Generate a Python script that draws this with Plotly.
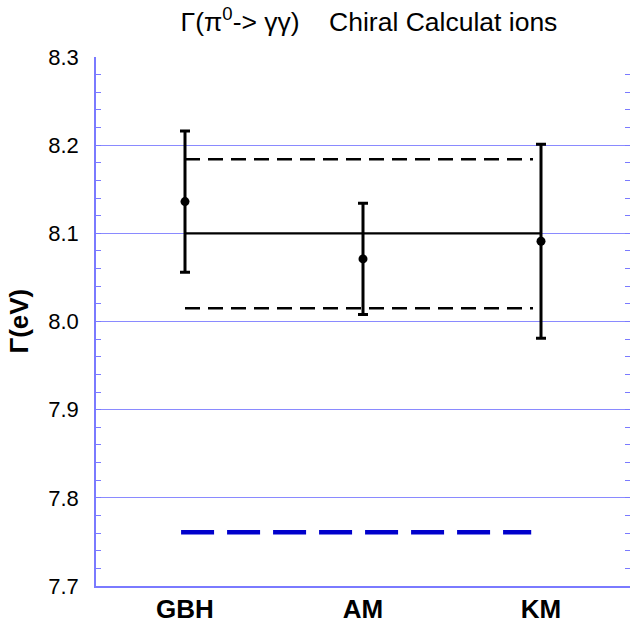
import plotly.graph_objects as go

# ---- data ----
categories = ["GBH", "AM", "KM"]
cat_pos = [0, 1, 2]
gamma_values = [8.136, 8.071, 8.091]
gamma_errors = [0.080, 0.063, 0.110]

mean_value = 8.10
mean_x = [0, 2]
band_upper = 8.184
band_lower = 8.015
band_x = [0, 1.955]

lo_value = 7.761
lo_x = [-0.022, 1.945]

y_ticks = [7.7, 7.8, 7.9, 8.0, 8.1, 8.2, 8.3]
y_range = [7.7, 8.3]

FONT = "Liberation Sans, Arial, sans-serif"
AXIS_BLUE = "#7a7aff"
GRID_BLUE = "#8a8aff"

fig = go.Figure()

# mean line
fig.add_trace(go.Scatter(x=mean_x, y=[mean_value] * len(mean_x), mode="lines",
                         line=dict(color="black", width=2.2), showlegend=False, hoverinfo="skip"))
# band lines
for yv in (band_upper, band_lower):
    fig.add_trace(go.Scatter(x=band_x, y=[yv] * len(band_x), mode="lines",
                             line=dict(color="black", width=2.5, dash="15px,8px"),
                             showlegend=False, hoverinfo="skip"))
# low blue dashed line
fig.add_trace(go.Scatter(x=lo_x, y=[lo_value] * len(lo_x), mode="lines",
                         line=dict(color="#0000cc", width=4.5, dash="33px,13px"),
                         showlegend=False, hoverinfo="skip"))
# points with error bars
fig.add_trace(go.Scatter(x=cat_pos, y=gamma_values, mode="markers",
                         marker=dict(color="black", size=9),
                         error_y=dict(type="data", array=gamma_errors, visible=True,
                                      color="black", thickness=3, width=5),
                         showlegend=False))

fig.update_layout(
    width=630, height=623,
    margin=dict(l=96, r=0, t=57, b=37),
    paper_bgcolor="white", plot_bgcolor="white",
    font=dict(family=FONT, color="black"),
    title=dict(text="Γ(π<sup>0</sup>-> γγ)\u00a0\u00a0\u00a0 Chiral Calculat ions",
               font=dict(family=FONT, size=26.5, color="black"),
               xref="container", x=369 / 630, xanchor="center",
               yref="container", y=1 - 22 / 623, yanchor="middle"),
    xaxis=dict(range=[-0.5, 2.5], tickvals=cat_pos, ticktext=categories,
               showgrid=False, zeroline=False, showline=True, linecolor=AXIS_BLUE, linewidth=1.5,
               ticks="", tickfont=dict(family=FONT, size=26, color="black", weight="bold"),
               ticklabelstandoff=-1, automargin=False, fixedrange=True),
    yaxis=dict(range=y_range, tickvals=y_ticks, ticktext=[f"{v:.1f}" for v in y_ticks],
               showgrid=True, gridcolor=GRID_BLUE, gridwidth=1.3, zeroline=False,
               showline=True, linecolor=AXIS_BLUE, linewidth=1.5, mirror="allticks",
               ticks="inside", ticklen=5, tickcolor=AXIS_BLUE,
               minor=dict(dtick=0.02, ticks="inside", ticklen=5, tickcolor=AXIS_BLUE, showgrid=False),
               tickfont=dict(family=FONT, size=22, color="black"),
               ticklabelstandoff=11, automargin=False, fixedrange=True),
    annotations=[dict(text="<b>Γ(eV)</b>", textangle=-90, xref="paper", yref="paper",
                      x=(18 - 96) / 534, y=0.5, xanchor="center", yanchor="middle",
                      showarrow=False, font=dict(family=FONT, size=26, color="black"))],
)

fig.write_html("out.html")
